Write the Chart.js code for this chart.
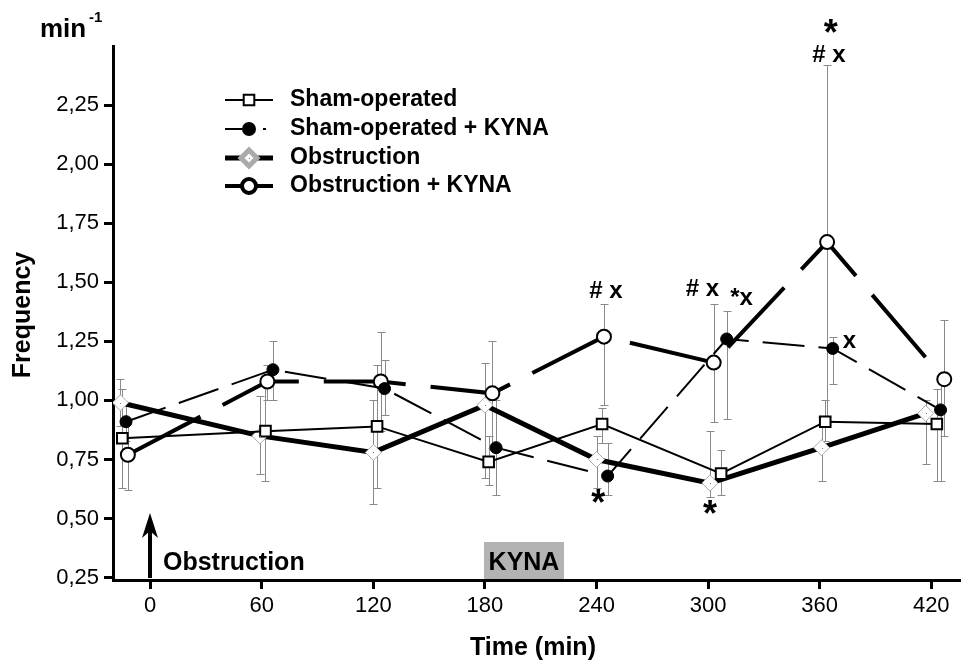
<!DOCTYPE html>
<html>
<head>
<meta charset="utf-8">
<script src="https://cdn.jsdelivr.net/npm/chart.js@4.4.0/dist/chart.umd.min.js"></script>
<style>
  html, body { margin: 0; padding: 0; background: #fff; }
  #wrap { width: 961px; height: 668px; position: relative; }
</style>
</head>
<body>
<div id="wrap"><canvas id="chart" width="961" height="668"></canvas></div>
<script>
// --- axis ticks ---
const xTicks = [0, 60, 120, 180, 240, 300, 360, 420];
const yTicks = [0.25, 0.5, 0.75, 1.0, 1.25, 1.5, 1.75, 2.0, 2.25];

// --- Sham-operated (open squares) ---
const shamTime = [-15, 62, 122, 182, 243, 307, 363, 423];
const shamMean = [0.84, 0.87, 0.89, 0.74, 0.90, 0.69, 0.91, 0.90];
const shamLow  = [0.63, 0.66, 0.63, 0.64, 0.82, 0.60, 0.83, 0.66];
const shamHigh = [1.05, 1.08, 1.15, 0.85, 0.97, 0.79, 1.00, 1.05];

// --- Sham-operated + KYNA (filled circles, dashed) ---
const shamKynaTime = [-13, 66, 126, 186, 246, 310, 367, 425];
const shamKynaMean = [0.91, 1.13, 1.05, 0.80, 0.68, 1.26, 1.22, 0.96];
const shamKynaLow  = [0.83, 1.00, 0.94, 0.60, 0.60, 0.92, 1.07, 0.66];
const shamKynaHigh = [0.99, 1.25, 1.17, 1.00, 0.82, 1.38, 1.27, 1.10];

// --- Obstruction (diamonds, thick line) ---
const obsTime = [-16, 59, 120, 180, 240, 301, 361, 417];
const obsMean = [0.99, 0.85, 0.78, 0.98, 0.75, 0.65, 0.80, 0.945];
const obsLow  = [0.89, 0.69, 0.56, 0.67, 0.63, 0.59, 0.66, 0.73];
const obsHigh = [1.09, 1.02, 1.00, 1.16, 0.85, 0.87, 0.93, 1.00];

// --- Obstruction + KYNA (open circles, thick dashed) ---
const obsKynaTime = [-12, 63, 124, 184, 244, 303, 364, 427];
const obsKynaMean = [0.77, 1.08, 1.08, 1.03, 1.27, 1.16, 1.67, 1.09];
const obsKynaLow  = [0.62, 1.00, 0.87, 0.80, 0.98, 0.91, 0.91, 0.85];
const obsKynaHigh = [0.92, 1.15, 1.29, 1.25, 1.41, 1.41, 2.42, 1.34];

// --- significance marks ---
const annText  = ['# x', '*', '# x', '*x', '*', '*', '# x', 'x'];
const annTime  = [245, 241, 297, 318, 301, 366, 365, 376];
const annValue = [1.46, 0.59, 1.47, 1.43, 0.545, 2.58, 2.46, 1.25];

const FONT = '"Liberation Sans", Arial, sans-serif';

function toPoints(t, v) {
    return t.map((x, i) => ({ x: x, y: v[i] }));
}

const errorSets = [
    { time: shamTime, low: shamLow, high: shamHigh },
    { time: shamKynaTime, low: shamKynaLow, high: shamKynaHigh },
    { time: obsTime, low: obsLow, high: obsHigh },
    { time: obsKynaTime, low: obsKynaLow, high: obsKynaHigh }
];

const overlay = {
    id: 'overlay',
    beforeDatasetsDraw(chart) {
        const ctx = chart.ctx;
        const xs = chart.scales.x, ys = chart.scales.y;
        ctx.save();
        ctx.strokeStyle = '#8a8a8a';
        ctx.lineWidth = 1;
        errorSets.forEach(s => {
            s.time.forEach((t, i) => {
                const px = Math.round(xs.getPixelForValue(t)) + 0.5;
                const y1 = Math.round(ys.getPixelForValue(s.low[i])) + 0.5;
                const y2 = Math.round(ys.getPixelForValue(s.high[i])) + 0.5;
                ctx.beginPath();
                ctx.moveTo(px, y1); ctx.lineTo(px, y2);
                ctx.moveTo(px - 4, y1); ctx.lineTo(px + 4, y1);
                ctx.moveTo(px - 4, y2); ctx.lineTo(px + 4, y2);
                ctx.stroke();
            });
        });
        ctx.restore();
    },
    afterDraw(chart) {
        const ctx = chart.ctx;
        const xs = chart.scales.x, ys = chart.scales.y;
        const area = chart.chartArea;
        ctx.save();

        // tiny dot in the middle of every diamond
        ctx.fillStyle = '#777';
        obsTime.forEach((t, i) => {
            ctx.fillRect(Math.round(xs.getPixelForValue(t)), Math.round(ys.getPixelForValue(obsMean[i])), 1, 1);
        });

        // legend
        const lx0 = 225, lx1 = 273, mx = 249, tx = 290;
        const rows = [100, 129, 158, 186];
        ctx.font = 'bold 23px ' + FONT;
        ctx.textBaseline = 'middle';
        ctx.textAlign = 'left';
        ctx.fillStyle = '#000';
        ctx.strokeStyle = '#000';

        // row 1
        ctx.lineWidth = 2;
        ctx.beginPath(); ctx.moveTo(lx0, rows[0]); ctx.lineTo(lx1, rows[0]); ctx.stroke();
        ctx.fillStyle = '#fff';
        Chart.helpers.drawPoint(ctx, { pointStyle: 'rect', radius: 7.5, borderWidth: 2, rotation: 0 }, mx, rows[0]);
        ctx.fillStyle = '#000';
        ctx.fillText('Sham-operated', tx, rows[0]);

        // row 2
        ctx.lineWidth = 2;
        ctx.beginPath(); ctx.moveTo(lx0, rows[1]); ctx.lineTo(mx, rows[1]); ctx.stroke();
        ctx.beginPath(); ctx.moveTo(263, rows[1]); ctx.lineTo(266, rows[1]); ctx.stroke();
        Chart.helpers.drawPoint(ctx, { pointStyle: 'circle', radius: 6, borderWidth: 1, rotation: 0 }, mx, rows[1]);
        ctx.fillText('Sham-operated + KYNA', tx, rows[1]);

        // row 3
        ctx.lineWidth = 5;
        ctx.beginPath(); ctx.moveTo(lx0, rows[2]); ctx.lineTo(lx1, rows[2]); ctx.stroke();
        ctx.fillStyle = '#fff'; ctx.strokeStyle = '#aaa';
        Chart.helpers.drawPoint(ctx, { pointStyle: 'rectRot', radius: 8, borderWidth: 1, rotation: 0 }, mx, rows[2]);
        ctx.fillStyle = '#777'; ctx.fillRect(mx, rows[2], 1, 1);
        ctx.fillStyle = '#000'; ctx.strokeStyle = '#000';
        ctx.fillText('Obstruction', tx, rows[2]);

        // row 4
        ctx.lineWidth = 4;
        ctx.beginPath(); ctx.moveTo(lx0, rows[3]); ctx.lineTo(lx1, rows[3]); ctx.stroke();
        ctx.fillStyle = '#fff';
        Chart.helpers.drawPoint(ctx, { pointStyle: 'circle', radius: 7, borderWidth: 2, rotation: 0 }, mx, rows[3]);
        ctx.fillStyle = '#000';
        ctx.fillText('Obstruction + KYNA', tx, rows[3]);

        // significance marks
        ctx.textAlign = 'center';
        annText.forEach((txt, i) => {
            const px = xs.getPixelForValue(annTime[i]);
            const py = ys.getPixelForValue(annValue[i]);
            if (txt === '*') {
                ctx.font = 'bold 36px ' + FONT;
                ctx.fillText(txt, px, py + 8);
            } else {
                ctx.font = 'bold 24px ' + FONT;
                ctx.fillText(txt, px, py);
            }
        });

        // obstruction arrow
        const ax = Math.round(xs.getPixelForValue(0));
        ctx.lineWidth = 4;
        ctx.beginPath(); ctx.moveTo(ax, area.bottom - 2); ctx.lineTo(ax, 528); ctx.stroke();
        ctx.beginPath();
        ctx.moveTo(ax, 513); ctx.lineTo(ax + 8, 538); ctx.lineTo(ax, 531); ctx.lineTo(ax - 8, 538);
        ctx.closePath(); ctx.fill();
        ctx.textAlign = 'left';
        ctx.font = 'bold 25px ' + FONT;
        ctx.fillText('Obstruction', 163, 563);

        // KYNA box
        ctx.fillStyle = '#b3b3b3';
        ctx.fillRect(484, 542, 80, area.bottom - 543);
        ctx.fillStyle = '#000';
        ctx.textAlign = 'center';
        ctx.fillText('KYNA', 524, 563);

        // axis titles
        ctx.font = 'bold 25px ' + FONT;
        ctx.fillText('Time (min)', 533, 648);
        ctx.save();
        ctx.translate(23, 315);
        ctx.rotate(-Math.PI / 2);
        ctx.fillText('Frequency', 0, 0);
        ctx.restore();

        // unit
        ctx.textAlign = 'left';
        ctx.font = 'bold 26px ' + FONT;
        ctx.fillText('min', 40, 30);
        ctx.font = 'bold 15px ' + FONT;
        ctx.fillText('-1', 89, 18);

        ctx.restore();
    }
};

new Chart(document.getElementById('chart'), {
    type: 'line',
    data: {
        datasets: [
            {
                label: 'Sham-operated',
                data: toPoints(shamTime, shamMean),
                borderColor: '#000', borderWidth: 2,
                pointStyle: 'rect', pointRadius: 7.5,
                pointBackgroundColor: '#fff', pointBorderColor: '#000', pointBorderWidth: 2
            },
            {
                label: 'Sham-operated + KYNA',
                data: toPoints(shamKynaTime, shamKynaMean),
                borderColor: '#000', borderWidth: 2, borderDash: [42, 14],
                pointStyle: 'circle', pointRadius: 6,
                pointBackgroundColor: '#000', pointBorderColor: '#000', pointBorderWidth: 1
            },
            {
                label: 'Obstruction',
                data: toPoints(obsTime, obsMean),
                borderColor: '#000', borderWidth: 5,
                pointStyle: 'rectRot', pointRadius: 8,
                pointBackgroundColor: '#fff', pointBorderColor: '#aaa', pointBorderWidth: 1
            },
            {
                label: 'Obstruction + KYNA',
                data: toPoints(obsKynaTime, obsKynaMean),
                borderColor: '#000', borderWidth: 4, borderDash: [82, 25],
                pointStyle: 'circle', pointRadius: 7,
                pointBackgroundColor: '#fff', pointBorderColor: '#000', pointBorderWidth: 2
            }
        ]
    },
    options: {
        responsive: false,
        animation: false,
        devicePixelRatio: 1,
        layout: { autoPadding: false, padding: { top: 46, right: 0, left: 0, bottom: 0 } },
        plugins: { legend: { display: false }, tooltip: { enabled: false } },
        elements: { line: { tension: 0, fill: false } },
        scales: {
            x: {
                type: 'linear',
                min: -20, max: 436,
                afterBuildTicks: s => { s.ticks = xTicks.map(v => ({ value: v })); },
                afterFit: s => { s.height = 88; },
                ticks: { color: '#000', font: { family: FONT, size: 22 }, padding: 4, maxRotation: 0 },
                grid: { display: true, drawOnChartArea: false, drawTicks: true, tickLength: 9, lineWidth: 3, color: '#000' },
                border: { display: true, width: 3, color: '#000' }
            },
            y: {
                min: 0.24, max: 2.5,
                afterBuildTicks: s => { s.ticks = yTicks.map(v => ({ value: v })); },
                afterFit: s => { s.width = 113; },
                ticks: {
                    color: '#000', font: { family: FONT, size: 22 }, padding: 5,
                    callback: v => v.toFixed(2).replace('.', ',')
                },
                grid: { display: true, drawOnChartArea: false, drawTicks: true, tickLength: 9, lineWidth: 3, color: '#000' },
                border: { display: true, width: 3, color: '#000' }
            }
        }
    },
    plugins: [overlay]
});
</script>
</body>
</html>
